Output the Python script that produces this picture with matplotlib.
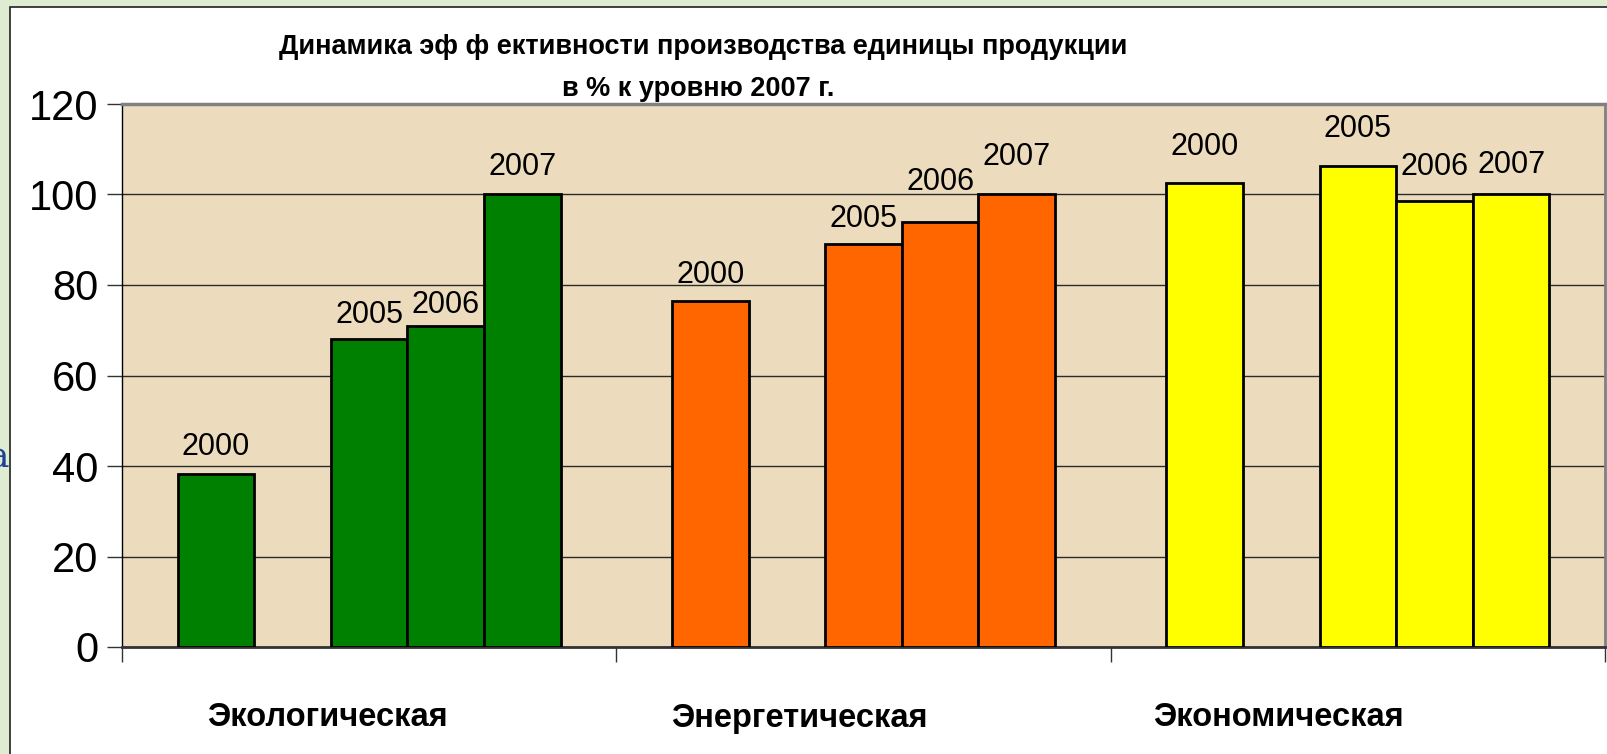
import numpy as np
import matplotlib
matplotlib.use("Agg")
import matplotlib.pyplot as plt
from matplotlib import font_manager
from matplotlib.patches import Rectangle
from matplotlib.transforms import blended_transform_factory

# ---- data ----
categories = ['Экологическая', 'Энергетическая', 'Экономическая']
years = ['2000', '2005', '2006', '2007']
ecological = [38.2, 68.0, 71.0, 100.0]
energy = [76.4, 89.1, 93.9, 100.0]
economic = [102.6, 106.3, 98.6, 100.0]
y_ticks = [0, 20, 40, 60, 80, 100, 120]

# ---- style / layout ----
colors = ['#008000', '#FF6600', '#FFFF00']
slot_index = [-2, 0, 1, 2]     # 2000, (gap), 2005, 2006, 2007
slot_w = 0.155
label_shift = [-0.085, -0.13, -0.16]
label_pads = [[9, 7, 4, 9], [8, 7, 18, 16.5], [15, 16, 13.5, 10.5]]

avail = {f.name for f in font_manager.fontManager.ttflist}
reg = 'Liberation Sans' if 'Liberation Sans' in avail else 'DejaVu Sans'

W, H = 1607, 754
fig = plt.figure(figsize=(W / 100, H / 100), dpi=100)
fig.patch.set_facecolor('#deedd1')

# blue letter peeking from the slide behind
fig.text(9 / W, 1 - 457 / H, 'а', ha='right', va='center', color='#1f3f95',
         fontsize=26, family='DejaVu Serif', zorder=0)

# white chart panel
panel = Rectangle((10 / W, -0.01), 1.0, 1 - 7 / H + 0.01, transform=fig.transFigure,
                  facecolor='white', edgecolor='#202020', lw=1.2, zorder=1)
fig.patches.append(panel)

ax = fig.add_axes([122 / W, 1 - 647 / H, (1605 - 122) / W, (647 - 104) / H], zorder=2)
ax.set_facecolor('#ecdcbd')

series = [ecological, energy, economic]
x_cat = np.arange(len(categories))
for ci, vals in enumerate(series):
    xs = x_cat[ci] + np.array(slot_index) * slot_w
    bars = ax.bar(xs, vals, width=slot_w, color=colors[ci], edgecolor='black',
                  linewidth=2.0, zorder=3)
    for bi, rect in enumerate(bars):
        ax.annotate(years[bi], (rect.get_x() + rect.get_width() / 2, rect.get_height()),
                    xytext=(0, label_pads[ci][bi]), textcoords='offset points',
                    ha='center', va='bottom', fontsize=22, family=reg,
                    color='black', zorder=4)

ax.set_xlim(-0.5, 2.5)
ax.set_ylim(0, 120)
ax.set_yticks(y_ticks)
ax.set_yticklabels([str(t) for t in y_ticks], fontsize=30, family=reg)
ax.tick_params(axis='y', direction='out', length=11, width=1, color='#333333', pad=6)
ax.set_xticks([-0.5, 0.5, 1.5, 2.5])
ax.set_xticklabels([])
ax.tick_params(axis='x', direction='out', length=11, width=1, color='#333333')
ax.yaxis.grid(True, color='#2a2a2a', lw=1.0, zorder=1)
ax.set_axisbelow(True)

ax.spines['left'].set_color('black'); ax.spines['left'].set_linewidth(1.0)
ax.spines['bottom'].set_color('#333333'); ax.spines['bottom'].set_linewidth(2.0)
ax.spines['top'].set_color('#808080'); ax.spines['top'].set_linewidth(2.5)
ax.spines['right'].set_color('#808080'); ax.spines['right'].set_linewidth(2.0)

trans = blended_transform_factory(ax.transData, fig.transFigure)
for ci, name in enumerate(categories):
    ax.text(x_cat[ci] + label_shift[ci], 1 - 718 / H, name, transform=trans,
            ha='center', va='center', fontsize=23.5,
            fontweight='bold', family=reg, color='black')

fig.text(703 / W, 1 - 47 / H,
         'Динамика эф ф ективности производства единицы продукции',
         ha='center', va='center', fontsize=19.5,
         fontweight='bold', family=reg, zorder=3)
fig.text(698 / W, 1 - 89 / H, 'в % к уровню 2007 г.',
         ha='center', va='center', fontsize=19.5,
         fontweight='bold', family=reg, zorder=3)

fig.savefig('out.png', dpi=100, facecolor=fig.get_facecolor())
